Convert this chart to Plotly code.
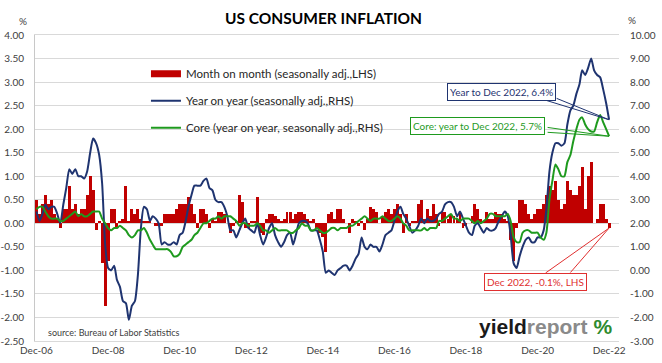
import plotly.graph_objects as go
import pandas as pd

# ---------------- data ----------------
months = pd.date_range("2006-12-01", "2022-12-01", freq="MS")

mom = [0.5,
       0.2, 0.4, 0.6, 0.4, 0.5, 0.2, 0.1, -0.1, 0.3, 0.3, 0.8, 0.3,
       0.4, 0.2, 0.3, 0.3, 0.6, 1.0, 0.7, -0.15, 0.05, -0.85, -1.75, -0.8,
       0.3, 0.3, -0.1, 0.05, 0.1, 0.8, 0.05, 0.3, 0.2, 0.3, 0.1, 0.05,
       0.05, 0.05, 0.0, -0.05, -0.05, -0.05, 0.2, 0.2, 0.2, 0.2, 0.3, 0.4,
       0.4, 0.4, 0.55, 0.4, 0.2, -0.1, 0.3, 0.3, 0.2, -0.1, 0.1, 0.05,
       0.25, 0.25, 0.2, 0.0, -0.2, -0.05, 0.05, 0.6, 0.45, -0.1, -0.1, 0.05,
       0.05, 0.55, -0.2, -0.25, 0.1, 0.2, 0.2, 0.15, 0.1, 0.05, 0.1, 0.25,
       0.25, 0.1, 0.2, 0.25, 0.25, 0.2, 0.1, 0.05, 0.1, -0.1, -0.2, -0.3,
       -0.6, 0.2, 0.25, 0.1, 0.3, 0.3, 0.1, 0.0, -0.2, 0.1, 0.05, -0.05,
       0.05, -0.15, 0.1, 0.35, 0.3, 0.25, 0.0, 0.15, 0.25, 0.3, 0.2, 0.3,
       0.4, 0.2, -0.2, 0.2, -0.05, 0.05, 0.05, 0.4, 0.5, 0.1, 0.3, 0.15,
       0.4, 0.2, -0.05, 0.25, 0.25, 0.1, 0.2, 0.15, 0.1, 0.25, -0.1, -0.05,
       0.0, 0.15, 0.4, 0.3, 0.1, 0.05, 0.25, 0.1, 0.1, 0.25, 0.2, 0.2,
       0.1, 0.05, -0.35, -0.8, -0.1, 0.5, 0.5, 0.4, 0.2, 0.1, 0.2, 0.3,
       0.3, 0.4, 0.6, 0.8, 0.7, 0.9, 0.5, 0.3, 0.4, 0.9, 0.7, 0.6,
       0.6, 0.8, 1.2, 0.3, 1.0, 1.3, 0.0, 0.1, 0.4, 0.4, 0.1, -0.1]

yoy = [2.5,
       2.1, 2.4, 2.8, 2.6, 2.7, 2.7, 2.4, 2.0, 2.8, 3.5, 4.3, 4.1,
       4.3, 4.0, 4.0, 3.9, 4.2, 5.0, 5.6, 5.4, 4.9, 3.7, 1.1, 0.1,
       0.0, 0.2, -0.4, -0.7, -1.3, -1.4, -2.1, -1.5, -1.3, -0.2, 1.8, 2.7,
       2.6, 2.1, 2.3, 2.2, 2.0, 1.1, 1.2, 1.1, 1.1, 1.2, 1.1, 1.5,
       1.6, 2.1, 2.7, 3.2, 3.6, 3.6, 3.6, 3.8, 3.9, 3.5, 3.4, 3.0,
       2.9, 2.9, 2.7, 2.3, 1.7, 1.7, 1.4, 1.7, 2.0, 2.2, 1.8, 1.7,
       1.6, 2.0, 1.5, 1.1, 1.4, 1.8, 2.0, 1.5, 1.2, 1.0, 1.2, 1.5,
       1.6, 1.1, 1.5, 2.0, 2.1, 2.1, 2.0, 1.7, 1.7, 1.7, 1.3, 0.8,
       -0.1, 0.0, -0.1, -0.2, 0.0, 0.1, 0.2, 0.2, 0.0, 0.2, 0.5, 0.7,
       1.4, 1.0, 0.9, 1.1, 1.0, 1.0, 0.8, 1.1, 1.5, 1.6, 1.7, 2.1,
       2.5, 2.7, 2.4, 2.2, 1.9, 1.6, 1.7, 1.9, 2.2, 2.0, 2.2, 2.1,
       2.1, 2.2, 2.4, 2.5, 2.8, 2.9, 2.9, 2.7, 2.3, 2.5, 2.2, 1.9,
       1.6, 1.5, 1.9, 2.0, 1.8, 1.6, 1.8, 1.7, 1.7, 1.8, 2.1, 2.3,
       2.5, 2.3, 1.5, 0.3, 0.1, 0.6, 1.0, 1.3, 1.4, 1.2, 1.2, 1.4,
       1.4, 1.7, 2.6, 4.2, 5.0, 5.4, 5.4, 5.3, 5.4, 6.2, 6.8, 7.0,
       7.5, 7.9, 8.5, 8.3, 8.6, 9.0, 8.5, 8.3, 8.2, 7.7, 7.1, 6.4]

core = [2.6,
        2.7, 2.7, 2.5, 2.3, 2.2, 2.2, 2.2, 2.1, 2.1, 2.2, 2.3, 2.4,
        2.5, 2.3, 2.4, 2.3, 2.3, 2.4, 2.5, 2.5, 2.5, 2.2, 2.0, 1.8,
        1.7, 1.8, 1.8, 1.9, 1.8, 1.7, 1.5, 1.4, 1.5, 1.7, 1.7, 1.8,
        1.6, 1.3, 1.1, 0.9, 0.9, 0.9, 0.9, 0.9, 0.8, 0.6, 0.6, 0.7,
        1.0, 1.1, 1.2, 1.3, 1.5, 1.6, 1.8, 2.0, 2.0, 2.1, 2.2, 2.2,
        2.3, 2.2, 2.3, 2.3, 2.3, 2.2, 2.1, 1.9, 2.0, 2.0, 1.9, 1.9,
        1.9, 2.0, 1.9, 1.7, 1.7, 1.6, 1.7, 1.8, 1.7, 1.7, 1.7, 1.7,
        1.6, 1.6, 1.7, 1.8, 2.0, 1.9, 1.9, 1.7, 1.7, 1.8, 1.7, 1.6,
        1.6, 1.7, 1.8, 1.8, 1.7, 1.8, 1.8, 1.8, 1.9, 1.9, 2.0, 2.1,
        2.2, 2.3, 2.2, 2.1, 2.2, 2.2, 2.2, 2.3, 2.2, 2.1, 2.1, 2.2,
        2.3, 2.2, 2.0, 1.9, 1.7, 1.7, 1.7, 1.7, 1.7, 1.8, 1.7, 1.8,
        1.8, 1.8, 2.1, 2.1, 2.2, 2.3, 2.4, 2.2, 2.2, 2.1, 2.2, 2.2,
        2.2, 2.1, 2.0, 2.1, 2.0, 2.1, 2.2, 2.4, 2.4, 2.3, 2.3, 2.3,
        2.3, 2.4, 2.1, 1.4, 1.2, 1.2, 1.6, 1.7, 1.7, 1.6, 1.6, 1.6,
        1.4, 1.3, 1.6, 3.0, 3.8, 4.5, 4.3, 4.0, 4.0, 4.6, 4.9, 5.5,
        6.0, 6.4, 6.5, 6.2, 6.0, 5.9, 5.9, 6.3, 6.6, 6.3, 6.0, 5.7]

x_tick_dates = ["2006-12-01", "2008-12-01", "2010-12-01", "2012-12-01", "2014-12-01",
                "2016-12-01", "2018-12-01", "2020-12-01", "2022-12-01"]
x_tick_labels = ["Dec-06", "Dec-08", "Dec-10", "Dec-12", "Dec-14",
                 "Dec-16", "Dec-18", "Dec-20", "Dec-22"]
left_ticks = [4.0, 3.5, 3.0, 2.5, 2.0, 1.5, 1.0, 0.5, 0.0, -0.5, -1.0, -1.5, -2.0, -2.5]
left_labels = ["4.00", "3.50", "3.00", "2.50", "2.00", "1.50", "1.00", "0.50", "0.00",
               "-0.50", "-1.00", "-1.50", "-2.00", "-2.50"]
right_ticks = [10, 9, 8, 7, 6, 5, 4, 3, 2, 1, 0, -1, -2, -3]
right_labels = ["10.00", "9.00", "8.00", "7.00", "6.00", "5.00", "4.00", "3.00", "2.00",
                "1.00", "0.00", "-1.00", "-2.00", "-3.00"]

names = ["Month on month (seasonally adj.,LHS)",
         "Year on year (seasonally adj.,RHS)",
         "Core (year on year, seasonally adj.,RHS)"]

RED = "#C00000"
NAVY = "#1F3470"
GREEN = "#1E9A1E"
FONT = "Lato"

fig = go.Figure()
fig.add_trace(go.Bar(x=months, y=mom, marker=dict(color=RED, line=dict(width=0)),
                     width=30 * 24 * 3600 * 1000, showlegend=False, yaxis="y"))
# legend entry for bars (wide red swatch)
fig.add_trace(go.Scatter(x=[None], y=[None], mode="lines", name=names[0],
                         line=dict(color=RED, width=7), legendgroup="a"))
fig.add_trace(go.Scatter(x=months, y=yoy, yaxis="y2", mode="lines", name=names[1],
                         line=dict(color=NAVY, width=2, shape="spline", smoothing=0.6),
                         legendgroup="b"))
fig.add_trace(go.Scatter(x=months, y=core, yaxis="y2", mode="lines", name=names[2],
                         line=dict(color=GREEN, width=2, shape="spline", smoothing=0.6),
                         legendgroup="c"))

last = months[-1]
annotations = []

def callout(y, yref, text, color, box_off, wedge_offs):
    for (wx, wy) in wedge_offs:
        annotations.append(dict(x=last, y=y, xref="x", yref=yref, text="", showarrow=True,
                                arrowhead=0, arrowwidth=1, arrowcolor=color, ax=wx, ay=wy,
                                standoff=0, startstandoff=0))
    annotations.append(dict(x=last, y=y, xref="x", yref=yref, text=text, showarrow=True,
                            arrowcolor="rgba(0,0,0,0)", arrowwidth=0.1, ax=box_off[0], ay=box_off[1],
                            bgcolor="white", bordercolor=color, borderwidth=1, borderpad=2,
                            font=dict(family=FONT, size=10, color=color)))

callout(yoy[-1], "y2", "Year to Dec 2022, 6.4%", NAVY, (-108, -28), [(-65, -20), (-54, -22)])
callout(core[-1], "y2", "Core: year to Dec 2022, 5.7%", GREEN, (-132, -10), [(-63, -9), (-63, -4)])
callout(mom[-1], "y", "Dec 2022, -0.1%, LHS", "#E03030", (-74, 54), [(-65, 46), (-40, 46)])

annotations += [
    dict(text="%", x=-0.031, y=1.072, xref="paper", yref="paper", showarrow=False,
         font=dict(family=FONT, size=10, color="#404040")),
    dict(text="%", x=1.0325, y=1.075, xref="paper", yref="paper", showarrow=False,
         font=dict(family=FONT, size=10, color="#404040")),
    dict(text="source: Bureau of Labor Statistics", x=0.019, y=0.029, xref="paper", yref="paper",
         xanchor="left", yanchor="middle", showarrow=False,
         font=dict(family=FONT, size=9, color="#404040")),
    dict(text="<b>yield</b><b><span style='color:#8A8A8A'>report</span></b> "
              "<b><span style='color:#2E8B2E'>%</span></b>",
         x=0.991, y=0.046, xref="paper", yref="paper", xanchor="right", yanchor="middle",
         showarrow=False, font=dict(family="Liberation Sans", size=21, color="#1A1A1A")),
]

fig.update_layout(
    width=662, height=363,
    margin=dict(l=35, r=43, t=35, b=22, autoexpand=False),
    paper_bgcolor="white", plot_bgcolor="white",
    font=dict(family=FONT, size=10, color="#404040"),
    title=dict(text="<b>US CONSUMER INFLATION</b>", x=0.4887, xref="container", xanchor="center",
               y=0.948, yref="container", yanchor="middle", automargin=False,
               font=dict(family=FONT, size=15.5, color="black")),
    bargap=0,
    legend=dict(x=0.19, y=0.921, xanchor="left", yanchor="top", bgcolor="rgba(0,0,0,0)",
                font=dict(family=FONT, size=11.5, color="#262626"), tracegroupgap=8,
                traceorder="grouped"),
    annotations=annotations,
    xaxis=dict(type="date", range=["2006-11-16", "2023-03-12"], tickvals=x_tick_dates,
               ticktext=x_tick_labels, showgrid=False, showline=True, linecolor="#D9D9D9",
               mirror=True, ticks="", zeroline=False, automargin=False,
               tickfont=dict(size=10, color="#404040")),
    yaxis=dict(range=[-2.5, 4.0001], tickvals=left_ticks, ticktext=left_labels, showgrid=True,
               gridcolor="#D9D9D9", gridwidth=1, showline=True, linecolor="#C8C8C8",
               zeroline=False, ticks="", ticklabelstandoff=8, automargin=False),
    yaxis2=dict(range=[-3, 10.0002], tickvals=right_ticks, ticktext=right_labels, overlaying="y",
                side="right", showgrid=False, zeroline=False, ticks="", showline=False,
                ticklabelstandoff=10, automargin=False),
)

fig.write_html("out.html", config={"displayModeBar": False},
               post_script="document.body.style.margin='0';")
